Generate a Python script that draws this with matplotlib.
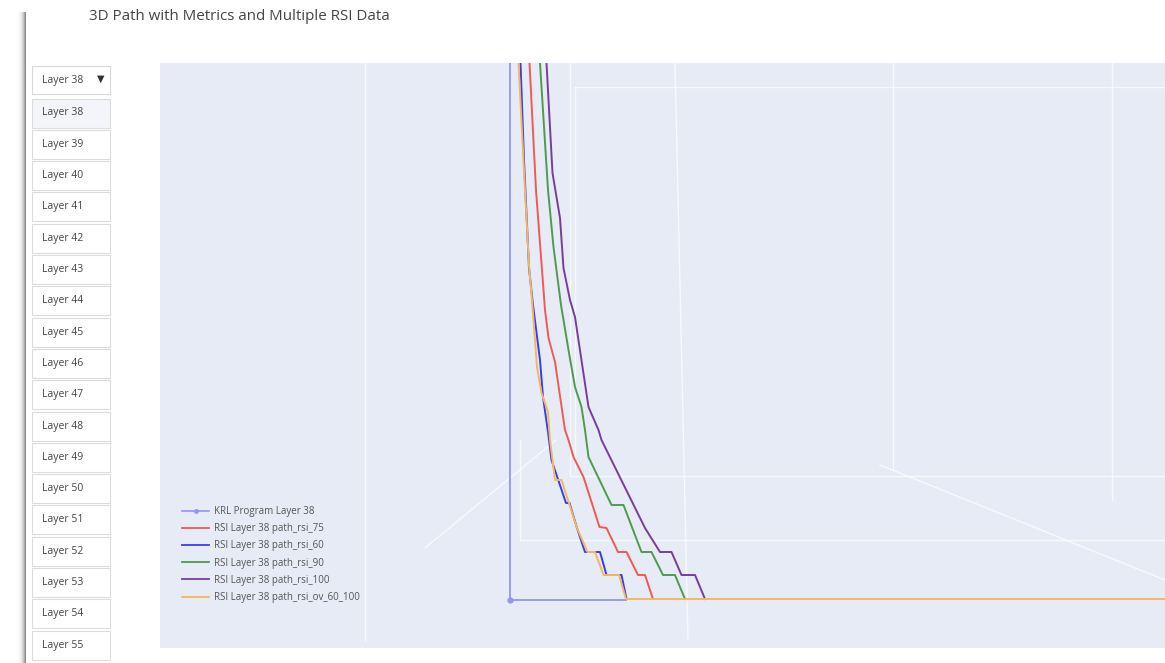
import numpy as np
import matplotlib.pyplot as plt
from matplotlib.patches import Rectangle
from matplotlib.lines import Line2D

# screen-space path samples (x, y in px, y grows downward)
krl_x = [510, 510, 626]
krl_y = [63, 600, 600]

rsi75_x = [529.5, 536, 545, 548.5, 555, 565, 568.5, 573.5, 583.5, 599.5, 606.5, 618, 626.5, 638, 645, 653]
rsi75_y = [63, 190, 310, 338, 362, 430, 440, 457, 477, 527, 528, 552, 552, 575, 575, 599]

rsi60_x = [520.5, 524, 529, 533, 540, 543, 548, 551.5, 566, 569.5, 577, 585, 600, 606.5, 621.5, 626.5]
rsi60_y = [63, 160, 268, 305, 360, 397, 432, 460, 503, 503, 528, 552, 552, 575, 575, 599]

rsi90_x = [540, 548, 553.5, 561, 568.5, 575, 581.5, 585, 588.5, 611.5, 623.5, 641.5, 651.5, 663, 675, 685]
rsi90_y = [63, 190, 247, 305, 350, 387, 407, 430, 457, 505, 505, 552, 552, 575, 575, 599]

rsi100_x = [546.5, 552.5, 560, 563.5, 570, 575, 588.5, 598.5, 601.5, 645, 660, 671.5, 681.5, 695, 705]
rsi100_y = [63, 173, 218, 268, 300, 317, 407, 430, 440, 528, 552, 552, 575, 575, 599]

ov_x = [518.5, 525, 529, 532, 535, 537, 541.5, 548, 550, 555, 561.5, 577, 587.5, 595, 603.5, 619, 626, 1165]
ov_y = [63, 190, 265, 300, 340, 367, 393, 412, 440, 480, 480, 528, 552, 552, 575, 575, 599, 599]

series_labels = ["KRL Program Layer 38", "RSI Layer 38 path_rsi_75", "RSI Layer 38 path_rsi_60",
                 "RSI Layer 38 path_rsi_90", "RSI Layer 38 path_rsi_100", "RSI Layer 38 path_rsi_ov_60_100"]
series_colors = ["#9494f7", "#ee5a55", "#3b3bee", "#4f9a4f", "#7a3c9a", "#f2b85e"]

layer_labels = ["Layer %d" % n for n in range(38, 56)]

# faint white grid lines of the 3d scene walls
grid_segments = [
    ([365, 365], [63, 640]),
    ([570, 570], [63, 476]), ([570, 1165], [476, 476]),
    ([520, 520], [440, 540]), ([520, 1165], [540, 540]),
    ([575, 1165], [87, 87]), ([575, 575], [87, 470]),
    ([675, 688], [63, 640]), ([893, 893], [63, 470]), ([1112, 1112], [63, 500]),
    ([425, 556], [548, 440]), ([880, 1165], [465, 580]),
]

W, H = 1165, 663
fig = plt.figure(figsize=(W / 100, H / 100), dpi=100)
plt.rcParams['font.family'] = ['Open Sans', 'DejaVu Sans']

# overlay for the page chrome (pixel coordinates)
ui = fig.add_axes([0, 0, 1, 1])
ui.set_xlim(0, W)
ui.set_ylim(H, 0)
ui.axis('off')

# soft grey window edge on the left
grad = np.linspace(0, 1, 40) ** 2
ui.imshow(np.tile(grad, (10, 1)), extent=[16, 26, H, 12], cmap='Greys', vmin=0, vmax=1.7,
          aspect='auto', zorder=1)

ui.text(89, 16, "3D Path with Metrics and Multiple RSI Data", fontsize=10.9, color='#444444',
        va='center', ha='left')

# dropdown header + menu buttons
ui.add_patch(Rectangle((32, 66), 78, 28, facecolor='white', edgecolor='#d9d9d9', lw=0.8, zorder=2))
ui.text(42, 80, "Layer 38", fontsize=7.5, color='#444444', va='center', zorder=3)
ui.text(101, 79, "\u25bc", fontsize=7, color='#333333', va='center', ha='center',
        family='DejaVu Sans', zorder=3)
for i, lab in enumerate(layer_labels):
    yc = 113 + 31.3 * i
    fc = '#f3f5fa' if i == 0 else 'white'
    ui.add_patch(Rectangle((32, yc - 14.5), 78, 29, facecolor=fc, edgecolor='#dcdcdc', lw=0.8, zorder=2))
    ui.text(42, yc, lab, fontsize=7.5, color='#444444', va='center', zorder=3)

# scene area
x0, x1, y0, y1 = 160, 1165, 63, 648
ax = fig.add_axes([x0 / W, (H - y1) / H, (x1 - x0) / W, (y1 - y0) / H])
ax.set_facecolor('#e6ebf5')
ax.set_xlim(x0, x1)
ax.set_ylim(y1, y0)
ax.set_xticks([])
ax.set_yticks([])
for s in ax.spines.values():
    s.set_visible(False)

for gx, gy in grid_segments:
    ax.plot(gx, gy, color='white', lw=1.0, alpha=0.7, zorder=1)

paths = [(krl_x, krl_y), (rsi75_x, rsi75_y), (rsi60_x, rsi60_y),
         (rsi90_x, rsi90_y), (rsi100_x, rsi100_y), (ov_x, ov_y)]
handles = []
for (px, py), lab, col in zip(paths, series_labels, series_colors):
    if lab.startswith("KRL"):
        ax.plot(px, py, color=col, lw=1.3, zorder=2)
        ax.plot(px[1], py[1], 'o', color=col, ms=3.5, zorder=3)
        handles.append(Line2D([], [], color=col, lw=1.2, marker='o', ms=2.5, markevery=[1]))
    else:
        ax.plot(px, py, color=col, lw=1.4, zorder=3)
        handles.append(Line2D([], [], color=col, lw=1.3))

leg = fig.legend(handles, series_labels, loc='upper left',
                 bbox_to_anchor=(182 / W, 1 - 506 / H), frameon=False,
                 fontsize=7, handlelength=2.8, handletextpad=0.5,
                 labelspacing=0.64, borderpad=0, borderaxespad=0)
for t in leg.get_texts():
    t.set_color('#555555')

fig.savefig("out.png", dpi=100)
